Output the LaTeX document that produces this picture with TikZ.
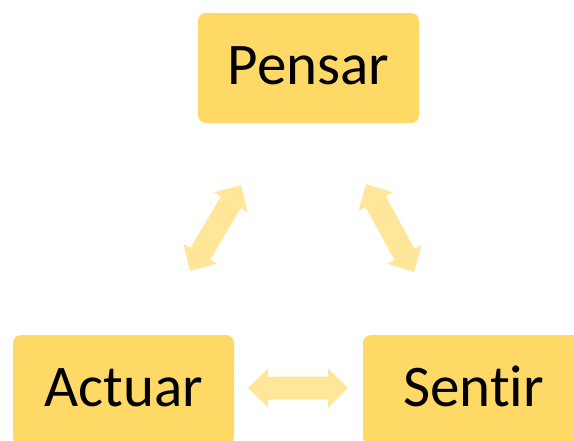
\documentclass[tikz,border=0pt]{standalone}
\usepackage{fontspec}
\setmainfont{Carlito}[Ligatures={NoCommon,NoContextual}]
\usetikzlibrary{calc}
\definecolor{boxyellow}{RGB}{255,217,102}
\definecolor{arrowyellow}{RGB}{255,230,153}
\tikzset{
  box/.style={fill=boxyellow, rounded corners=8pt, minimum width=221pt, minimum height=110pt,
    inner sep=0pt, text height=40pt, text depth=8pt, font=\fontsize{59}{62}\selectfont, text=black},
  blockarrow/.style={fill=arrowyellow, draw=none}
}
\newcommand\dblarrow[2]{%
  \coordinate (#1P) at ($(#1)!20pt!(#2)$);
  \coordinate (#1Q) at ($(#2)!20pt!(#1)$);
  \fill[blockarrow] (#1)
    -- ($(#1P)!19.5pt!90:(#2)$) -- ($(#1P)!11.5pt!90:(#2)$)
    -- ($(#1Q)!11.5pt!-90:(#1)$) -- ($(#1Q)!19.5pt!-90:(#1)$)
    -- (#2)
    -- ($(#1Q)!19.5pt!90:(#1)$) -- ($(#1Q)!11.5pt!90:(#1)$)
    -- ($(#1P)!11.5pt!-90:(#2)$) -- ($(#1P)!19.5pt!-90:(#2)$)
    -- cycle;}
\begin{document}
\begin{tikzpicture}[x=1pt,y=-1pt]
\useasboundingbox (0,0) rectangle (574,440);
\begin{scope}
\clip (0,0) rectangle (574,440);
\node[box] (pensar) at (308.5,68) {Pensar};
\node[box] (actuar) at (123.5,390) {Actuar};
\node[box] (sentir) at (473.5,390) {Sentir};
\coordinate (la) at (241,185);
\coordinate (lb) at (190,271);
\coordinate (ra) at (366,184);
\coordinate (rb) at (414,272);
\coordinate (ha) at (248,388);
\coordinate (hb) at (348,388);
\dblarrow{la}{lb}
\dblarrow{ra}{rb}
\dblarrow{ha}{hb}
\end{scope}
\end{tikzpicture}
\end{document}
